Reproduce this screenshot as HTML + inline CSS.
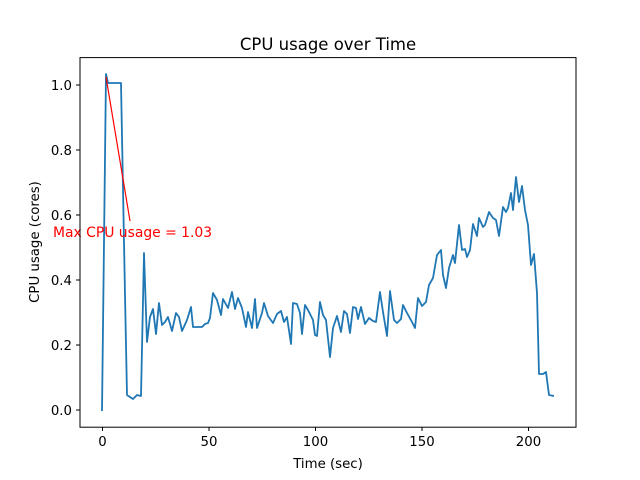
<!DOCTYPE html>
<html><head><style>body{margin:0;background:#fff}svg{display:block}text{font-family:"DejaVu Sans","Liberation Sans",sans-serif;fill:#000}</style></head>
<body>
<svg width="640" height="480" viewBox="0 0 640 480" xmlns="http://www.w3.org/2000/svg">
<rect width="640" height="480" fill="#fff"/>
<polyline fill="none" stroke="#1f77b4" stroke-width="1.8" stroke-linejoin="round" points="102,411 106,74 108,83 113,83 117,83 121,83 125,295 127,395 133,399 137,395 141,396 144,253 147,342 150,317 153,309 156,334 159,303 162,325 165,322 168,317 172,331 176,313 179,317 182,331 187,320 191,307 193,327 198,327 202,327 205,324 208,323 210,318 213,293 217,300 221,315 223,299 228,308 232,292 235,309 238,298 242,308 246,327 248,312 252,328 255,299 257,328 262,313 264,303 268,316 273,323 277,314 281,311 284,322 287,317 291,344 293,303 297,304 300,313 302,334 305,305 308,310 313,320 315,335 317,336 320,302 323,315 326,320 330,357 333,328 337,316 341,332 344,311 347,314 350,333 353,307 356,308 358,319 361,307 365,324 369,318 373,321 376,322 380,292 383,312 387,336 390,291 394,320 397,323 401,319 403,305 407,313 412,322 415,328 418,298 422,306 426,302 429,285 433,278 437,255 441,250 443,275 446,288 449,268 453,255 455,263 459,225 462,250 465,249 467,257 470,250 473,224 477,236 479,218 483,227 485,225 489,212 493,218 496,220 499,236 503,207 506,212 508,208 511,193 513,210 516,177 519,202 522,186 525,210 528,225 531,265 534,254 537,293 539,374 543,374 546,372 549,395 554,396"/>
<line x1="130" y1="221" x2="106" y2="77" stroke="red" stroke-width="1.2"/>
<text x="53" y="237" font-size="13.9" style="fill:red">Max CPU usage = 1.03</text>
<rect x="80" y="57.6" width="496" height="369.6" fill="none" stroke="#000" stroke-width="1"/>
<g stroke="#000" stroke-width="1">
<line x1="102.5" y1="427" x2="102.5" y2="431"/><line x1="209" y1="427" x2="209" y2="431"/><line x1="315.5" y1="427" x2="315.5" y2="431"/><line x1="422" y1="427" x2="422" y2="431"/><line x1="528.5" y1="427" x2="528.5" y2="431"/>
<line x1="76" y1="410" x2="80" y2="410"/><line x1="76" y1="345" x2="80" y2="345"/><line x1="76" y1="280" x2="80" y2="280"/><line x1="76" y1="215" x2="80" y2="215"/><line x1="76" y1="150" x2="80" y2="150"/><line x1="76" y1="85" x2="80" y2="85"/>
</g>
<g font-size="13.3" text-anchor="middle">
<text x="102.5" y="446">0</text><text x="209" y="446">50</text><text x="315.5" y="446">100</text><text x="422" y="446">150</text><text x="528.5" y="446">200</text>
</g>
<g font-size="13.3" text-anchor="end">
<text x="72" y="415">0.0</text><text x="72" y="350">0.2</text><text x="72" y="285">0.4</text><text x="72" y="220">0.6</text><text x="72" y="155">0.8</text><text x="72" y="90">1.0</text>
</g>
<text x="328" y="468" font-size="13.3" text-anchor="middle">Time (sec)</text>
<text transform="translate(39,242) rotate(-90)" font-size="13.3" text-anchor="middle">CPU usage (cores)</text>
<text x="328" y="50" font-size="16.5" text-anchor="middle">CPU usage over Time</text>
</svg>
</body></html>
